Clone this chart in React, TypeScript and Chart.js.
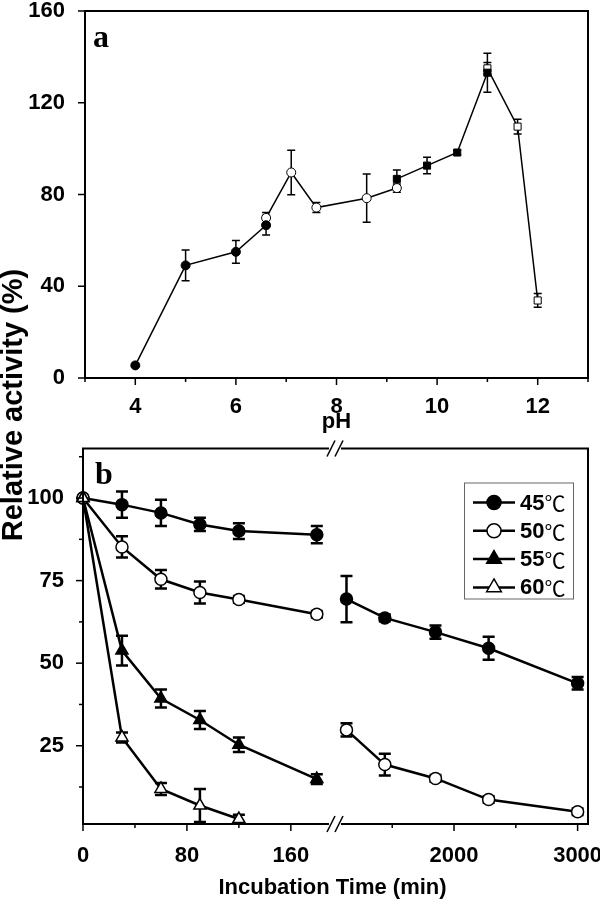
import React, { useEffect, useRef } from 'react';
import { Chart, registerables } from 'chart.js';

Chart.register(...registerables);

const SANS = '"Liberation Sans", Arial, Helvetica, sans-serif';
const SERIF = '"Liberation Serif", "Times New Roman", serif';

// ---------------- Panel a : pH profile ----------------
const phTickValues = [3, 4, 5, 6, 7, 8, 9, 10, 11, 12, 13];
const phTickLabelled = [4, 6, 8, 10, 12];
const activityTickValues = [0, 40, 80, 120, 160];

const phSeries1 = [4, 5, 6, 6.6];
const actSeries1 = [5.5, 49.1, 55.0, 66.6];
const errSeries1 = [0, 6.7, 5.0, 4.3];

const phSeries2 = [6.6, 7.1, 7.6, 8.6, 9.2];
const actSeries2 = [69.8, 89.6, 74.3, 78.4, 82.8];
const errSeries2 = [2.4, 9.7, 2.2, 10.5, 1.8];

const phSeries3 = [9.2, 9.8, 10.4, 11];
const actSeries3 = [86.8, 92.6, 98.3, 133.1];
const errSeries3 = [3.9, 3.6, 1.0, 8.5];

const phSeries4 = [11, 11.6, 12];
const actSeries4 = [135.0, 109.6, 33.8];
const errSeries4 = [2.5, 3.2, 3.0];

// ---------------- Panel b : thermal stability ----------------
const shortTickValues = [0, 40, 80, 120, 160];
const shortTickLabelled = [0, 80, 160];
const longTickValues = [1500, 2000, 2500, 3000];
const longTickLabelled = [2000, 3000];
const stabTickValues = [12.5, 25, 37.5, 50, 62.5, 75, 87.5, 100, 112.5];
const stabTickLabelled = [25, 50, 75, 100];

const tempLabels = ['45℃', '50℃', '55℃', '60℃'];

const timeShort = [0, 30, 60, 90, 120, 180];
const timeLong = [1130, 1440, 1850, 2280, 3000];
const time60 = [0, 30, 60, 90, 120];

const act45Short = [100, 98.0, 95.5, 92.0, 90.0, 88.9];
const err45Short = [0, 4.0, 4.0, 2.0, 2.4, 2.6];
const act45Long = [69.4, 63.7, 59.4, 54.5, 43.9];
const err45Long = [7.0, 1.0, 2.0, 3.5, 1.9];

const act50Short = [100, 85.2, 75.4, 71.4, 69.3, 64.8];
const err50Short = [0, 3.2, 2.8, 3.3, 1.0, 1.0];
const act50Long = [29.8, 19.3, 15.1, 8.7, 5.0];
const err50Long = [2.0, 3.3, 1.0, 1.0, 1.0];

const act55 = [100, 53.8, 39.3, 32.8, 25.3, 14.9];
const err55 = [0, 4.5, 2.7, 2.7, 2.2, 1.5];

const act60 = [100, 27.5, 11.9, 6.9, 2.8];
const err60 = [0, 1.5, 1.8, 5.0, 1.3];

const pts = (xs: number[], ys: number[]) => xs.map((x, i) => ({ x, y: ys[i] }));

// ---------------- plugins ----------------
function errorBarPlugin(width: number, cap: number) {
  return {
    id: 'errorBars',
    beforeDatasetsDraw(chart: any) {
      const ctx = chart.ctx;
      chart.data.datasets.forEach((ds: any, i: number) => {
        const errs = ds.errorBars;
        if (!errs) return;
        const meta = chart.getDatasetMeta(i);
        const yScale = chart.scales[meta.yAxisID];
        ctx.save();
        ctx.strokeStyle = '#000';
        ctx.lineWidth = width;
        meta.data.forEach((el: any, j: number) => {
          const e = errs[j];
          if (!e) return;
          const v = ds.data[j].y;
          const x = el.x;
          const yt = yScale.getPixelForValue(v + e);
          const yb = yScale.getPixelForValue(v - e);
          ctx.beginPath();
          ctx.moveTo(x, yt);
          ctx.lineTo(x, yb);
          ctx.moveTo(x - cap, yt);
          ctx.lineTo(x + cap, yt);
          ctx.moveTo(x - cap, yb);
          ctx.lineTo(x + cap, yb);
          ctx.stroke();
        });
        ctx.restore();
      });
    },
  };
}

function axisPlugin(opts: { breakScale?: string; letter: string; letterDx: number; letterDy: number; frameWidth: number }) {
  return {
    id: 'axisFrame',
    afterDraw(chart: any) {
      const ctx = chart.ctx;
      const { left, right, top, bottom } = chart.chartArea;
      ctx.save();
      ctx.strokeStyle = '#000';
      // ticks
      ctx.lineWidth = 1.5;
      Object.values(chart.scales).forEach((s: any) => {
        s.ticks.forEach((t: any) => {
          const major = t.label !== '' && t.label != null;
          const len = major ? 7 : 4;
          const p = s.getPixelForValue(t.value);
          ctx.beginPath();
          if (s.isHorizontal()) {
            ctx.moveTo(p, bottom);
            ctx.lineTo(p, bottom + len);
          } else {
            ctx.moveTo(left, p);
            ctx.lineTo(left - len, p);
          }
          ctx.stroke();
        });
      });
      // frame
      ctx.lineWidth = opts.frameWidth;
      ctx.lineCap = 'square';
      if (!opts.breakScale) {
        ctx.strokeRect(left, top, right - left, bottom - top);
      } else {
        const bx = chart.scales[opts.breakScale].right;
        const g = 7;
        ctx.beginPath();
        ctx.moveTo(left, top);
        ctx.lineTo(left, bottom);
        ctx.moveTo(right, top);
        ctx.lineTo(right, bottom);
        ctx.moveTo(left, top);
        ctx.lineTo(bx - g, top);
        ctx.moveTo(bx + g, top);
        ctx.lineTo(right, top);
        ctx.moveTo(left, bottom);
        ctx.lineTo(bx - g, bottom);
        ctx.moveTo(bx + g, bottom);
        ctx.lineTo(right, bottom);
        ctx.stroke();
        ctx.lineWidth = 1.5;
        ctx.lineCap = 'butt';
        [top, bottom].forEach((y) => {
          [-4, 4].forEach((off) => {
            ctx.beginPath();
            ctx.moveTo(bx + off - 4, y + 8);
            ctx.lineTo(bx + off + 4, y - 8);
            ctx.stroke();
          });
        });
      }
      // panel letter
      ctx.fillStyle = '#000';
      ctx.font = `bold 32px ${SERIF}`;
      ctx.textAlign = 'left';
      ctx.textBaseline = 'alphabetic';
      ctx.fillText(opts.letter, left + opts.letterDx, top + opts.letterDy);
      ctx.restore();
    },
  };
}

function drawMarker(ctx: CanvasRenderingContext2D, style: string, x: number, y: number, r: number, fill: string) {
  ctx.beginPath();
  if (style === 'triangle') {
    let rad = 0;
    ctx.moveTo(x + Math.sin(rad) * r, y - Math.cos(rad) * r);
    rad += (2 * Math.PI) / 3;
    ctx.lineTo(x + Math.sin(rad) * r, y - Math.cos(rad) * r);
    rad += (2 * Math.PI) / 3;
    ctx.lineTo(x + Math.sin(rad) * r, y - Math.cos(rad) * r);
    ctx.closePath();
  } else {
    ctx.arc(x, y, r, 0, Math.PI * 2);
  }
  ctx.fillStyle = fill;
  ctx.fill();
  ctx.stroke();
}

const legendPlugin = {
  id: 'boxLegend',
  afterDraw(chart: any) {
    const ctx = chart.ctx;
    const { right, top } = chart.chartArea;
    const bx = right - 124;
    const by = top + 34;
    const bw = 109;
    const bh = 116;
    ctx.save();
    ctx.strokeStyle = '#666';
    ctx.lineWidth = 1;
    ctx.fillStyle = '#fff';
    ctx.fillRect(bx, by, bw, bh);
    ctx.strokeRect(bx + 0.5, by + 0.5, bw, bh);
    const seen = new Set<string>();
    let row = 0;
    chart.data.datasets.forEach((ds: any) => {
      if (!ds.label || seen.has(ds.label)) return;
      seen.add(ds.label);
      const cy = by + 20 + row * 28.3;
      ctx.strokeStyle = '#000';
      ctx.lineWidth = 2.5;
      ctx.beginPath();
      ctx.moveTo(bx + 9, cy);
      ctx.lineTo(bx + 51, cy);
      ctx.stroke();
      ctx.lineWidth = 1.5;
      drawMarker(ctx, ds.pointStyle, bx + 30, cy, ds.pointStyle === 'triangle' ? 8.5 : 7, ds.pointBackgroundColor);
      const num = ds.label.replace('℃', '');
      ctx.fillStyle = '#000';
      ctx.textBaseline = 'middle';
      ctx.textAlign = 'left';
      ctx.font = `bold 22px ${SANS}`;
      ctx.fillText(num, bx + 56, cy + 1);
      const w = ctx.measureText(num).width;
      ctx.font = `21px "Noto Sans CJK SC", "DejaVu Sans", sans-serif`;
      ctx.fillText('℃', bx + 56 + w, cy + 1);
      row++;
    });
    ctx.restore();
  },
};

const xTitlePlugin = {
  id: 'xTitle',
  afterDraw(chart: any) {
    const ctx = chart.ctx;
    const { left, right, bottom } = chart.chartArea;
    ctx.save();
    ctx.fillStyle = '#000';
    ctx.font = `bold 22px ${SANS}`;
    ctx.textAlign = 'center';
    ctx.textBaseline = 'middle';
    ctx.fillText('Incubation Time (min)', (left + right) / 2 - 3, bottom + 64);
    ctx.restore();
  },
};

const tickFont = { family: SANS, size: 22, weight: 'bold' as const };

export default function App() {
  const refA = useRef<HTMLCanvasElement>(null);
  const refB = useRef<HTMLCanvasElement>(null);

  useEffect(() => {
    const lineA = (xs: number[], ys: number[], errs: number[], style: string, fill: string, r: number) => ({
      data: pts(xs, ys),
      errorBars: errs,
      xAxisID: 'x',
      yAxisID: 'y',
      borderColor: '#000',
      borderWidth: 1.5,
      pointStyle: style,
      pointRadius: r,
      pointBackgroundColor: fill,
      pointBorderColor: '#000',
      pointBorderWidth: 1,
      tension: 0,
      clip: 10,
    });

    const chartA = new Chart(refA.current as HTMLCanvasElement, {
      type: 'line',
      data: {
        datasets: [
          lineA(phSeries1, actSeries1, errSeries1, 'circle', '#000', 4.5),
          lineA(phSeries2, actSeries2, errSeries2, 'circle', '#fff', 4.5),
          lineA(phSeries3, actSeries3, errSeries3, 'rect', '#000', 5),
          lineA(phSeries4, actSeries4, errSeries4, 'rect', '#fff', 5),
        ] as any,
      },
      options: {
        responsive: false,
        animation: false,
        devicePixelRatio: 1,
        layout: { padding: { top: 11, right: 12, bottom: 0, left: 0 } },
        plugins: { legend: { display: false }, tooltip: { enabled: false } },
        scales: {
          x: {
            type: 'linear',
            position: 'bottom',
            min: 3,
            max: 13,
            grid: { display: false },
            border: { display: false },
            title: { display: true, text: 'pH', color: '#000', font: { family: SANS, size: 22, weight: 'bold' }, padding: { top: 0, bottom: 5 } },
            ticks: {
              color: '#000',
              font: tickFont,
              padding: 8,
              autoSkip: false,
              maxRotation: 0,
              callback: (v: any) => (phTickLabelled.includes(Number(v)) ? String(v) : ''),
            },
            afterBuildTicks: (s: any) => {
              s.ticks = phTickValues.map((v) => ({ value: v }));
            },
            afterFit: (s: any) => {
              s.height = 62;
              s.paddingLeft = 0;
              s.paddingRight = 0;
            },
          },
          y: {
            type: 'linear',
            position: 'left',
            min: 0,
            max: 160,
            grid: { display: false },
            border: { display: false },
            ticks: {
              color: '#000',
              font: tickFont,
              padding: 12,
              callback: (v: any) => String(v),
            },
            afterBuildTicks: (s: any) => {
              s.ticks = activityTickValues.map((v) => ({ value: v }));
            },
            afterFit: (s: any) => {
              s.width = 85;
              s.paddingTop = 0;
              s.paddingBottom = 0;
            },
          },
        },
      } as any,
      plugins: [errorBarPlugin(1.5, 4), axisPlugin({ letter: 'a', letterDx: 8, letterDy: 36, frameWidth: 2 })] as any,
    });

    const lineB = (label: string, xs: number[], ys: number[], errs: number[], axis: string, style: string, fill: string, order: number) => ({
      label,
      data: pts(xs, ys),
      errorBars: errs,
      xAxisID: axis,
      yAxisID: 'y',
      borderColor: '#000',
      borderWidth: 2.5,
      pointStyle: style,
      pointRadius: style === 'triangle' ? 7 : 6,
      pointBackgroundColor: fill,
      pointBorderColor: '#000',
      pointBorderWidth: 1.5,
      tension: 0,
      clip: 10,
      order,
    });

    const xScaleB = (min: number, max: number, weight: number, values: number[], labelled: number[]) => ({
      type: 'linear',
      axis: 'x',
      position: 'bottom',
      stack: 'time',
      stackWeight: weight,
      min,
      max,
      grid: { display: false },
      border: { display: false },
      ticks: {
        color: '#000',
        font: tickFont,
        padding: 11,
        autoSkip: false,
        maxRotation: 0,
        callback: (v: any) => (labelled.includes(Number(v)) ? String(v) : ''),
      },
      afterBuildTicks: (s: any) => {
        s.ticks = values.map((v) => ({ value: v }));
      },
      afterFit: (s: any) => {
        s.height = 77;
        s.paddingLeft = 0;
        s.paddingRight = 0;
      },
    });

    const chartB = new Chart(refB.current as HTMLCanvasElement, {
      type: 'line',
      data: {
        datasets: [
          lineB(tempLabels[0], timeShort, act45Short, err45Short, 'x1', 'circle', '#000', 4),
          lineB(tempLabels[0], timeLong, act45Long, err45Long, 'x2', 'circle', '#000', 4),
          lineB(tempLabels[1], timeShort, act50Short, err50Short, 'x1', 'circle', '#fff', 3),
          lineB(tempLabels[1], timeLong, act50Long, err50Long, 'x2', 'circle', '#fff', 3),
          lineB(tempLabels[2], timeShort, act55, err55, 'x1', 'triangle', '#000', 2),
          lineB(tempLabels[3], time60, act60, err60, 'x1', 'triangle', '#fff', 1),
        ] as any,
      },
      options: {
        responsive: false,
        animation: false,
        devicePixelRatio: 1,
        layout: { padding: { top: 8, right: 12, bottom: 0, left: 0 } },
        plugins: { legend: { display: false }, tooltip: { enabled: false } },
        scales: {
          x1: xScaleB(0, 194, 252, shortTickValues, shortTickLabelled),
          x2: xScaleB(1037, 3084, 253, longTickValues, longTickLabelled),
          y: {
            type: 'linear',
            position: 'left',
            min: 1.3,
            max: 115,
            grid: { display: false },
            border: { display: false },
            ticks: {
              color: '#000',
              font: tickFont,
              padding: 11,
              callback: (v: any) => (stabTickLabelled.includes(Number(v)) ? String(v) : ''),
            },
            afterBuildTicks: (s: any) => {
              s.ticks = stabTickValues.map((v) => ({ value: v }));
            },
            afterFit: (s: any) => {
              s.width = 83;
              s.paddingTop = 0;
              s.paddingBottom = 0;
            },
          },
        },
      } as any,
      plugins: [
        errorBarPlugin(2.5, 6),
        axisPlugin({ breakScale: 'x1', letter: 'b', letterDx: 12, letterDy: 35, frameWidth: 2 }),
        legendPlugin,
        xTitlePlugin,
      ] as any,
    });

    return () => {
      chartA.destroy();
      chartB.destroy();
    };
  }, []);

  return (
    <div style={{ position: 'absolute', left: 0, top: 0, width: 600, height: 901, background: '#fff', overflow: 'hidden' }}>
      <canvas ref={refA} width={600} height={440} style={{ position: 'absolute', left: 0, top: 0, width: 600, height: 440 }} />
      <canvas ref={refB} width={600} height={461} style={{ position: 'absolute', left: 0, top: 440, width: 600, height: 461 }} />
      <div
        style={{
          position: 'absolute',
          left: 14 - 200,
          top: 405 - 18,
          width: 400,
          height: 36,
          lineHeight: '36px',
          textAlign: 'center',
          transform: 'rotate(-90deg)',
          transformOrigin: 'center center',
          font: `bold 29px ${SANS}`,
          color: '#000',
          whiteSpace: 'nowrap',
        }}
      >
        Relative activity (%)
      </div>
    </div>
  );
}
